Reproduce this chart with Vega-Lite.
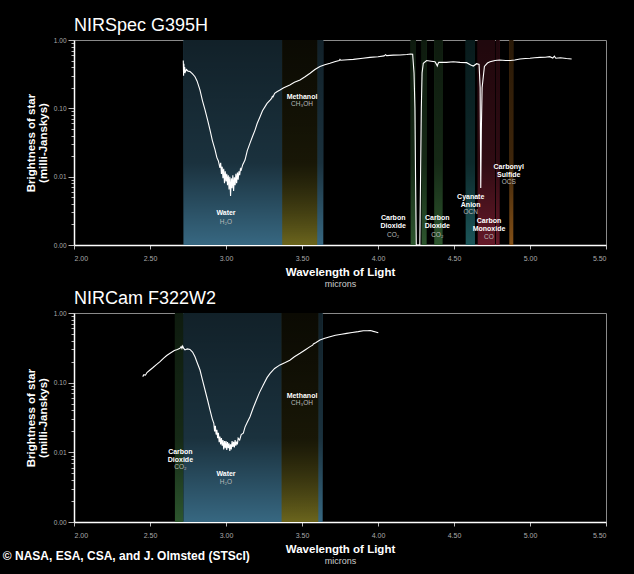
{
  "$schema": "https://vega.github.io/schema/vega-lite/v6.json",
  "background": "black",
  "autosize": {"type": "none"},
  "padding": {"left": 74, "top": 40, "right": 560, "bottom": 534},
  "config": {
    "view": {"stroke": "#8a8a8a", "strokeWidth": 1},
    "font": "Liberation Sans",
    "concat": {"spacing": 0},
    "axis": {
      "domainColor": "white", "domainWidth": 1.5, "tickColor": "#bbbbbb",
      "labelColor": "#aaaaaa", "labelFontSize": 7, "labelFont": "Liberation Sans",
      "titleColor": "white", "titleFontWeight": "bold", "titleFont": "Liberation Sans", "grid": false
    },
    "axisY": {
      "values": [0.001,0.002,0.003,0.004,0.005,0.006,0.007,0.008,0.009,0.01,0.02,0.03,0.04,0.05,0.06,0.07,0.08,0.09,0.1,0.2,0.3,0.4,0.5,0.6,0.7,0.8,0.9,1],
      "labelExpr": "(datum.value==1||datum.value==0.1||datum.value==0.01||datum.value==0.001) ? format(datum.value,'.2f') : ''",
      "tickSize": {"condition": {"test": "datum.value==1||datum.value==0.1||datum.value==0.01||datum.value==0.001", "value": 6}, "value": 3},
      "titleFontSize": 11.5, "titleLineHeight": 12, "labelPadding": 2, "titlePadding": 5, "labelOverlap": false, "labelFontSize": 6.5
    }
  },
  "datasets": {
    "spec1": [
      {"w":2.719,"v":0.50},{"w":2.721,"v":0.30},{"w":2.723,"v":0.45},{"w":2.725,"v":0.33},{"w":2.728,"v":0.40},{"w":2.732,"v":0.34},{"w":2.74,"v":0.37},{"w":2.75,"v":0.35},{"w":2.763,"v":0.345},{"w":2.78,"v":0.32},{"w":2.796,"v":0.29},{"w":2.81,"v":0.25},{"w":2.829,"v":0.185},{"w":2.845,"v":0.13},{"w":2.862,"v":0.095},{"w":2.88,"v":0.066},{"w":2.895,"v":0.048},{"w":2.91,"v":0.034},{"w":2.928,"v":0.0246},{"w":2.94,"v":0.019},{"w":2.95,"v":0.017},{"w":2.96,"v":0.0135},{"w":2.965,"v":0.016},{"w":2.97,"v":0.011},{"w":2.975,"v":0.014},{"w":2.98,"v":0.0095},{"w":2.985,"v":0.013},{"w":2.99,"v":0.008},{"w":2.995,"v":0.012},{"w":3.0,"v":0.0085},{"w":3.005,"v":0.011},{"w":3.01,"v":0.0075},{"w":3.015,"v":0.0105},{"w":3.02,"v":0.0065},{"w":3.025,"v":0.01},{"w":3.03,"v":0.0052},{"w":3.035,"v":0.0095},{"w":3.04,"v":0.0068},{"w":3.045,"v":0.0105},{"w":3.05,"v":0.0062},{"w":3.055,"v":0.0098},{"w":3.06,"v":0.0075},{"w":3.065,"v":0.011},{"w":3.07,"v":0.008},{"w":3.075,"v":0.0115},{"w":3.08,"v":0.009},{"w":3.085,"v":0.012},{"w":3.09,"v":0.0105},{"w":3.095,"v":0.013},{"w":3.1,"v":0.0125},{"w":3.11,"v":0.015},{"w":3.125,"v":0.0175},{"w":3.14,"v":0.024},{"w":3.158,"v":0.031},{"w":3.175,"v":0.039},{"w":3.191,"v":0.048},{"w":3.205,"v":0.06},{"w":3.224,"v":0.0755},{"w":3.24,"v":0.092},{"w":3.257,"v":0.106},{"w":3.27,"v":0.118},{"w":3.29,"v":0.132},{"w":3.3,"v":0.14},{"w":3.305,"v":0.15},{"w":3.31,"v":0.148},{"w":3.32,"v":0.166},{"w":3.335,"v":0.175},{"w":3.355,"v":0.185},{"w":3.38,"v":0.2},{"w":3.42,"v":0.22},{"w":3.45,"v":0.24},{"w":3.487,"v":0.26},{"w":3.52,"v":0.29},{"w":3.553,"v":0.326},{"w":3.585,"v":0.37},{"w":3.618,"v":0.41},{"w":3.65,"v":0.435},{"w":3.684,"v":0.456},{"w":3.72,"v":0.485},{"w":3.745,"v":0.5},{"w":3.75,"v":0.52},{"w":3.755,"v":0.505},{"w":3.8,"v":0.515},{"w":3.838,"v":0.52},{"w":3.9,"v":0.54},{"w":3.947,"v":0.557},{"w":4.0,"v":0.57},{"w":4.04,"v":0.585},{"w":4.05,"v":0.61},{"w":4.057,"v":0.59},{"w":4.1,"v":0.6},{"w":4.145,"v":0.603},{"w":4.19,"v":0.615},{"w":4.215,"v":0.624},{"w":4.228,"v":0.62},{"w":4.237,"v":0.33},{"w":4.243,"v":0.1},{"w":4.247,"v":0.01},{"w":4.252,"v":0.001},{"w":4.275,"v":0.001},{"w":4.28,"v":0.01},{"w":4.285,"v":0.1},{"w":4.29,"v":0.33},{"w":4.298,"v":0.456},{"w":4.32,"v":0.5},{"w":4.35,"v":0.49},{"w":4.375,"v":0.48},{"w":4.385,"v":0.44},{"w":4.39,"v":0.416},{"w":4.395,"v":0.45},{"w":4.4,"v":0.47},{"w":4.45,"v":0.47},{"w":4.495,"v":0.48},{"w":4.54,"v":0.47},{"w":4.583,"v":0.466},{"w":4.61,"v":0.43},{"w":4.627,"v":0.416},{"w":4.649,"v":0.45},{"w":4.665,"v":0.44},{"w":4.672,"v":0.2},{"w":4.676,"v":0.0068},{"w":4.68,"v":0.05},{"w":4.685,"v":0.2},{"w":4.7,"v":0.41},{"w":4.72,"v":0.46},{"w":4.737,"v":0.48},{"w":4.77,"v":0.5},{"w":4.8,"v":0.51},{"w":4.84,"v":0.5},{"w":4.87,"v":0.5},{"w":4.9,"v":0.51},{"w":4.934,"v":0.527},{"w":4.97,"v":0.535},{"w":5.0,"v":0.54},{"w":5.03,"v":0.55},{"w":5.066,"v":0.557},{"w":5.1,"v":0.56},{"w":5.13,"v":0.57},{"w":5.15,"v":0.545},{"w":5.16,"v":0.58},{"w":5.17,"v":0.54},{"w":5.2,"v":0.55},{"w":5.24,"v":0.535},{"w":5.274,"v":0.527}
    ],
    "spec2": [
      {"w":2.452,"v":0.122},{"w":2.46,"v":0.13},{"w":2.47,"v":0.128},{"w":2.48,"v":0.14},{"w":2.5,"v":0.152},{"w":2.52,"v":0.165},{"w":2.54,"v":0.18},{"w":2.566,"v":0.2},{"w":2.59,"v":0.225},{"w":2.61,"v":0.245},{"w":2.632,"v":0.264},{"w":2.66,"v":0.29},{"w":2.68,"v":0.3},{"w":2.697,"v":0.311},{"w":2.705,"v":0.33},{"w":2.71,"v":0.31},{"w":2.715,"v":0.336},{"w":2.722,"v":0.31},{"w":2.73,"v":0.295},{"w":2.745,"v":0.305},{"w":2.763,"v":0.3},{"w":2.78,"v":0.275},{"w":2.796,"v":0.236},{"w":2.81,"v":0.195},{"w":2.829,"v":0.152},{"w":2.845,"v":0.11},{"w":2.862,"v":0.0785},{"w":2.88,"v":0.055},{"w":2.895,"v":0.0405},{"w":2.91,"v":0.03},{"w":2.92,"v":0.026},{"w":2.925,"v":0.02},{"w":2.93,"v":0.024},{"w":2.935,"v":0.018},{"w":2.94,"v":0.021},{"w":2.945,"v":0.016},{"w":2.95,"v":0.019},{"w":2.955,"v":0.014},{"w":2.96,"v":0.0168},{"w":2.965,"v":0.013},{"w":2.97,"v":0.016},{"w":2.975,"v":0.0125},{"w":2.98,"v":0.015},{"w":2.985,"v":0.011},{"w":2.99,"v":0.0145},{"w":2.995,"v":0.0115},{"w":3.0,"v":0.0145},{"w":3.005,"v":0.0108},{"w":3.01,"v":0.014},{"w":3.015,"v":0.0115},{"w":3.02,"v":0.0135},{"w":3.025,"v":0.0105},{"w":3.03,"v":0.013},{"w":3.035,"v":0.011},{"w":3.04,"v":0.0145},{"w":3.045,"v":0.012},{"w":3.05,"v":0.0142},{"w":3.055,"v":0.0118},{"w":3.06,"v":0.015},{"w":3.065,"v":0.0125},{"w":3.07,"v":0.0142},{"w":3.075,"v":0.013},{"w":3.08,"v":0.016},{"w":3.09,"v":0.015},{"w":3.1,"v":0.018},{"w":3.114,"v":0.0188},{"w":3.125,"v":0.023},{"w":3.14,"v":0.027},{"w":3.158,"v":0.0325},{"w":3.18,"v":0.044},{"w":3.2,"v":0.0564},{"w":3.22,"v":0.072},{"w":3.245,"v":0.0926},{"w":3.27,"v":0.118},{"w":3.29,"v":0.136},{"w":3.32,"v":0.16},{"w":3.355,"v":0.18},{"w":3.39,"v":0.195},{"w":3.42,"v":0.21},{"w":3.45,"v":0.235},{"w":3.487,"v":0.264},{"w":3.52,"v":0.295},{"w":3.553,"v":0.329},{"w":3.57,"v":0.345},{"w":3.575,"v":0.36},{"w":3.59,"v":0.375},{"w":3.618,"v":0.41},{"w":3.65,"v":0.435},{"w":3.684,"v":0.457},{"w":3.72,"v":0.48},{"w":3.76,"v":0.495},{"w":3.794,"v":0.51},{"w":3.83,"v":0.525},{"w":3.87,"v":0.54},{"w":3.903,"v":0.557},{"w":3.93,"v":0.555},{"w":3.95,"v":0.56},{"w":3.97,"v":0.545},{"w":3.985,"v":0.535},{"w":4.002,"v":0.52}
    ],
    "bands1": [
      {"band":"Water","start":2.72,"end":3.64},
      {"band":"Methanol","start":3.37,"end":3.6},
      {"band":"CO2","start":4.215,"end":4.25},
      {"band":"CO2","start":4.287,"end":4.32},
      {"band":"CO2","start":4.37,"end":4.425},
      {"band":"OCN","start":4.577,"end":4.638},
      {"band":"CO","start":4.656,"end":4.77},
      {"band":"CO","start":4.776,"end":4.8},
      {"band":"OCS","start":4.864,"end":4.89}
    ],
    "bands2": [
      {"band":"CO2","start":2.664,"end":2.72},
      {"band":"Water","start":2.72,"end":3.636},
      {"band":"Methanol","start":3.366,"end":3.607}
    ],
    "labels1": [
      {"x":3.5,"yName":0.147,"yForm":0.116,"name":"Methanol","formula":"CH₃OH"},
      {"x":3.0,"yName":0.0029,"yForm":0.0022,"name":"Water","formula":"H₂O"},
      {"x":4.1,"yName":0.00248,"yForm":0.0014,"name":"Carbon\nDioxide","formula":"CO₂"},
      {"x":4.39,"yName":0.00248,"yForm":0.0014,"name":"Carbon\nDioxide","formula":"CO₂"},
      {"x":4.61,"yName":0.00504,"yForm":0.00304,"name":"Cyanate\nAnion","formula":"OCN"},
      {"x":4.73,"yName":0.00224,"yForm":0.00131,"name":"Carbon\nMonoxide","formula":"CO"},
      {"x":4.86,"yName":0.01385,"yForm":0.00835,"name":"Carbonyl\nSulfide","formula":"OCS"}
    ],
    "labels2": [
      {"x":3.5,"yName":0.0645,"yForm":0.051,"name":"Methanol","formula":"CH₃OH"},
      {"x":2.7,"yName":0.0101,"yForm":0.0062,"name":"Carbon\nDioxide","formula":"CO₂"},
      {"x":3.0,"yName":0.0049,"yForm":0.00375,"name":"Water","formula":"H₂O"}
    ]
  },
  "title": {"text": "© NASA, ESA, CSA, and J. Olmsted (STScI)", "orient": "bottom", "anchor": "start", "offset": -15, "dx": -22, "fontSize": 12, "fontWeight": "bold", "color": "white", "font": "Liberation Sans"},
  "vconcat": [
    {
      "width": 532, "height": 205,
      "title": {"text": "NIRSpec G395H", "anchor": "start", "frame": "group", "fontSize": 18, "fontWeight": "normal", "color": "white", "offset": 2},
      "resolve": {"axis": {"x": "independent"}},
      "layer": [
        {
          "data": {"name": "bands1"},
          "mark": {"type": "rect"},
          "encoding": {
            "x": {"field": "start", "type": "quantitative", "scale": {"domain": [2, 5.5], "nice": false, "zero": false},
              "axis": {"values": [2, 2.5, 3, 3.5, 4, 4.5, 5, 5.5], "format": ".2f", "title": "Wavelength of Light", "titleFontSize": 11.5, "tickSize": 4, "labelPadding": 5, "titlePadding": 5, "orient": "bottom"}},
            "x2": {"field": "end"},
            "color": {"field": "band", "type": "nominal", "legend": null,
              "scale": {"domain": ["Water", "Methanol", "CO2", "OCN", "CO", "OCS"], "range": ["#3a6d88", "#777020", "#2f5a30", "#1d5a5e", "#6a1a2a", "#8a5418"]}}
          }
        },
        {
          "data": {"name": "bands1"},
          "mark": {"type": "rect", "color": {"gradient": "linear", "x1": 0, "y1": 0, "x2": 0, "y2": 1,
            "stops": [{"offset": 0, "color": "rgba(0,0,0,0.7)"}, {"offset": 0.6, "color": "rgba(0,0,0,0.55)"}, {"offset": 1, "color": "rgba(0,0,0,0.05)"}]}},
          "encoding": {
            "x": {"field": "start", "type": "quantitative", "axis": null},
            "x2": {"field": "end"}
          }
        },
        {
          "data": {"name": "spec1"},
          "mark": {"type": "line", "color": "white", "strokeWidth": 1.1, "clip": true},
          "encoding": {
            "x": {"field": "w", "type": "quantitative", "axis": null},
            "y": {"field": "v", "type": "quantitative", "scale": {"type": "log", "domain": [0.001, 1], "nice": false, "clamp": true},
              "title": ["Brightness of star", "(milli-Janskys)"]}
          }
        },
        {
          "data": {"name": "labels1"},
          "mark": {"type": "text", "color": "white", "fontWeight": "bold", "fontSize": 7, "lineBreak": "\n", "baseline": "middle", "lineHeight": 8},
          "encoding": {
            "x": {"field": "x", "type": "quantitative",
              "axis": {"orient": "bottom", "title": "microns", "titleFontWeight": "normal", "titleFontSize": 9, "titleColor": "#cccccc", "labels": false, "ticks": false, "domain": false, "offset": 34, "titlePadding": 0}},
            "y": {"field": "yName", "type": "quantitative", "title": ["Brightness of star", "(milli-Janskys)"]},
            "text": {"field": "name"}
          }
        },
        {
          "data": {"name": "labels1"},
          "mark": {"type": "text", "color": "#bbbbbb", "fontSize": 6.5, "baseline": "middle"},
          "encoding": {
            "x": {"field": "x", "type": "quantitative", "axis": null},
            "y": {"field": "yForm", "type": "quantitative", "title": ["Brightness of star", "(milli-Janskys)"]},
            "text": {"field": "formula"}
          }
        }
      ]
    },
    {
      "width": 532, "height": 209,
      "title": {"text": "NIRCam F322W2", "anchor": "start", "frame": "group", "fontSize": 18, "fontWeight": "normal", "color": "white", "offset": 2},
      "resolve": {"axis": {"x": "independent"}},
      "layer": [
        {
          "data": {"name": "bands2"},
          "mark": {"type": "rect"},
          "encoding": {
            "x": {"field": "start", "type": "quantitative", "scale": {"domain": [2, 5.5], "nice": false, "zero": false},
              "axis": {"values": [2, 2.5, 3, 3.5, 4, 4.5, 5, 5.5], "format": ".2f", "title": "Wavelength of Light", "titleFontSize": 11.5, "tickSize": 4, "labelPadding": 5, "titlePadding": 5, "orient": "bottom"}},
            "x2": {"field": "end"},
            "color": {"field": "band", "type": "nominal", "legend": null,
              "scale": {"domain": ["Water", "Methanol", "CO2", "OCN", "CO", "OCS"], "range": ["#3a6d88", "#777020", "#2f5a30", "#1d5a5e", "#6a1a2a", "#8a5418"]}}
          }
        },
        {
          "data": {"name": "bands2"},
          "mark": {"type": "rect", "color": {"gradient": "linear", "x1": 0, "y1": 0, "x2": 0, "y2": 1,
            "stops": [{"offset": 0, "color": "rgba(0,0,0,0.7)"}, {"offset": 0.6, "color": "rgba(0,0,0,0.55)"}, {"offset": 1, "color": "rgba(0,0,0,0.05)"}]}},
          "encoding": {
            "x": {"field": "start", "type": "quantitative", "axis": null},
            "x2": {"field": "end"}
          }
        },
        {
          "data": {"name": "spec2"},
          "mark": {"type": "line", "color": "white", "strokeWidth": 1.1, "clip": true},
          "encoding": {
            "x": {"field": "w", "type": "quantitative", "axis": null},
            "y": {"field": "v", "type": "quantitative", "scale": {"type": "log", "domain": [0.001, 1], "nice": false, "clamp": true},
              "title": ["Brightness of star", "(milli-Janskys)"]}
          }
        },
        {
          "data": {"name": "labels2"},
          "mark": {"type": "text", "color": "white", "fontWeight": "bold", "fontSize": 7, "lineBreak": "\n", "baseline": "middle", "lineHeight": 8},
          "encoding": {
            "x": {"field": "x", "type": "quantitative",
              "axis": {"orient": "bottom", "title": "microns", "titleFontWeight": "normal", "titleFontSize": 9, "titleColor": "#cccccc", "labels": false, "ticks": false, "domain": false, "offset": 34, "titlePadding": 0}},
            "y": {"field": "yName", "type": "quantitative", "title": ["Brightness of star", "(milli-Janskys)"]},
            "text": {"field": "name"}
          }
        },
        {
          "data": {"name": "labels2"},
          "mark": {"type": "text", "color": "#bbbbbb", "fontSize": 6.5, "baseline": "middle"},
          "encoding": {
            "x": {"field": "x", "type": "quantitative", "axis": null},
            "y": {"field": "yForm", "type": "quantitative", "title": ["Brightness of star", "(milli-Janskys)"]},
            "text": {"field": "formula"}
          }
        }
      ]
    }
  ]
}
